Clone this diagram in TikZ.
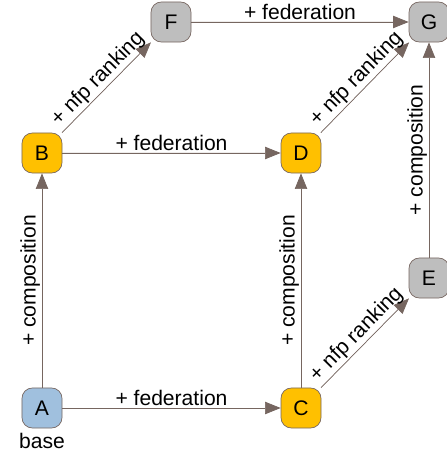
\documentclass[tikz,border=0pt]{standalone}
\usepackage{fontspec}
\setmainfont{Liberation Sans}
\usetikzlibrary{arrows.meta}
\definecolor{edgecol}{RGB}{118,102,96}
\definecolor{basecol}{RGB}{160,192,222}
\definecolor{yelcol}{RGB}{255,192,0}
\definecolor{greycol}{RGB}{190,190,190}
\begin{document}
\begin{tikzpicture}[
    x=0.025cm, y=-0.025cm,
    state/.style={rectangle, rounded corners=0.26cm, draw=edgecol, line width=0.5pt, minimum width=1cm, minimum height=1cm, inner sep=0pt, font=\fontsize{15}{17}\selectfont},
    arrow/.style={-{Triangle[length=3.9mm, width=3.1mm]}, draw=edgecol, fill=edgecol, line width=0.5pt},
    lbl/.style={font=\fontsize{15}{17}\selectfont, inner sep=1.2pt, fill=none}
]
\useasboundingbox (0,0) rectangle (446,451);

\node[state, fill=basecol] (A) at (42,408) {A};
\node[state, fill=yelcol] (B) at (42,153) {B};
\node[state, fill=yelcol] (C) at (301,408) {C};
\node[state, fill=yelcol] (D) at (301,153) {D};
\node[state, fill=greycol] (E) at (429,278) {E};
\node[state, fill=greycol] (F) at (171,22) {F};
\node[state, fill=greycol] (G) at (429,22) {G};
\node[lbl, anchor=north, yshift=-2pt] (Abase) at (A.south) {base};

\draw[arrow] (A) -- (B) node[midway, above, sloped, lbl] {+ composition};
\draw[arrow] (A) -- (C) node[midway, above, lbl] {+ federation};
\draw[arrow] (B) -- (D) node[midway, above, lbl] {+ federation};
\draw[arrow] (B) -- (F) node[midway, above, sloped, lbl] {+ nfp ranking};
\draw[arrow] (C) -- (D) node[midway, above, sloped, lbl] {+ composition};
\draw[arrow] (C) -- (E) node[midway, above, sloped, lbl] {+ nfp ranking};
\draw[arrow] (D) -- (G) node[midway, above, sloped, lbl] {+ nfp ranking};
\draw[arrow] (E) -- (G) node[midway, above, sloped, lbl] {+ composition};
\draw[arrow] (F) -- (G) node[midway, above, lbl] {+ federation};
\end{tikzpicture}
\end{document}
